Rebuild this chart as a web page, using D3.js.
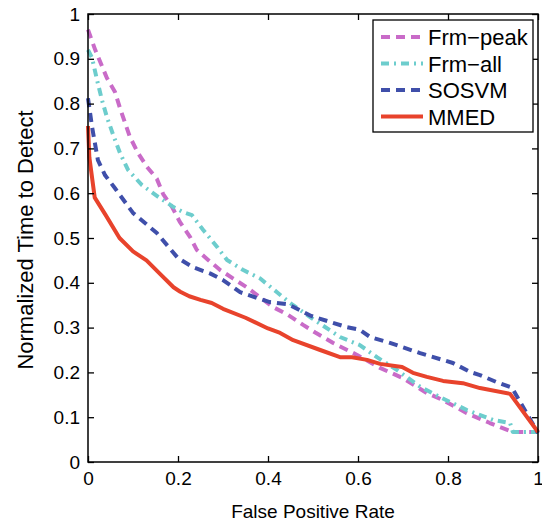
<!DOCTYPE html>
<html>
<head>
<meta charset="utf-8">
<script src="https://cdn.jsdelivr.net/npm/d3@7"></script>
<style>
  body { margin: 0; background: #fff; }
  svg { font-family: "Liberation Sans", Arial, Helvetica, sans-serif; }
</style>
</head>
<body>
<div id="chart"></div>
<script>
// values
const xTicks = [0, 0.2, 0.4, 0.6, 0.8, 1];
const yTicks = [0, 0.1, 0.2, 0.3, 0.4, 0.5, 0.6, 0.7, 0.8, 0.9, 1];

const frmPeak = [
  [0, 0.965], [0.016, 0.92], [0.042, 0.857], [0.06, 0.826], [0.071, 0.79],
  [0.093, 0.726], [0.111, 0.69], [0.131, 0.659], [0.153, 0.632], [0.167, 0.598],
  [0.188, 0.567], [0.204, 0.536], [0.227, 0.502], [0.242, 0.473], [0.267, 0.451],
  [0.293, 0.429], [0.322, 0.41], [0.353, 0.39], [0.382, 0.368], [0.411, 0.346],
  [0.445, 0.328], [0.478, 0.306], [0.505, 0.289], [0.544, 0.266], [0.598, 0.239],
  [0.649, 0.21], [0.7, 0.187], [0.753, 0.154], [0.789, 0.138], [0.842, 0.109],
  [0.893, 0.087], [0.944, 0.067], [1, 0.067]
];

const frmAll = [
  [0, 0.92], [0.009, 0.902], [0.02, 0.853], [0.031, 0.808], [0.042, 0.77],
  [0.056, 0.73], [0.071, 0.69], [0.089, 0.652], [0.12, 0.618], [0.156, 0.592],
  [0.19, 0.569], [0.211, 0.558], [0.231, 0.551], [0.256, 0.518], [0.287, 0.48],
  [0.309, 0.451], [0.344, 0.429], [0.382, 0.41], [0.42, 0.379], [0.449, 0.355],
  [0.496, 0.322], [0.56, 0.279], [0.604, 0.261], [0.642, 0.234], [0.687, 0.205],
  [0.738, 0.168], [0.782, 0.145], [0.842, 0.116], [0.9, 0.094], [0.938, 0.087],
  [0.944, 0.067], [1, 0.067]
];

const sosvm = [
  [0, 0.812], [0.009, 0.748], [0.022, 0.674], [0.038, 0.64], [0.06, 0.611],
  [0.1, 0.556], [0.153, 0.511], [0.2, 0.455], [0.233, 0.435], [0.271, 0.421],
  [0.3, 0.406], [0.338, 0.379], [0.376, 0.366], [0.404, 0.357], [0.445, 0.352],
  [0.496, 0.326], [0.575, 0.301], [0.604, 0.295], [0.627, 0.279], [0.671, 0.266],
  [0.738, 0.243], [0.811, 0.221], [0.849, 0.201], [0.871, 0.194], [0.909, 0.178],
  [0.942, 0.166], [1, 0.065]
];

const mmed = [
  [0, 0.75], [0.003, 0.68], [0.015, 0.59], [0.04, 0.55], [0.07, 0.50],
  [0.1, 0.47], [0.13, 0.45], [0.16, 0.42], [0.19, 0.39], [0.205, 0.38],
  [0.225, 0.37], [0.25, 0.362], [0.275, 0.355], [0.3, 0.342], [0.35, 0.322],
  [0.4, 0.298], [0.427, 0.288], [0.456, 0.272], [0.516, 0.25], [0.56, 0.234],
  [0.587, 0.234], [0.62, 0.228], [0.649, 0.219], [0.698, 0.212], [0.722, 0.199],
  [0.753, 0.19], [0.789, 0.181], [0.833, 0.176], [0.871, 0.165], [0.938, 0.152],
  [1, 0.067]
];

const seriesNames = ['Frm\u2212peak', 'Frm\u2212all', 'SOSVM', 'MMED'];
const seriesData = [frmPeak, frmAll, sosvm, mmed];
const seriesColors = ['#c96bc8', '#6dcdcd', '#3f4faa', '#e8432c'];
const seriesDash = ['9,6', '8,5,2,5', '9,6', null];

const width = 542, height = 523;
const margin = {top: 14, right: 4, bottom: 61, left: 88};
const w = width - margin.left - margin.right;
const h = height - margin.top - margin.bottom;

const svg = d3.select('#chart').append('svg')
    .attr('width', width).attr('height', height);
const g = svg.append('g')
    .attr('transform', 'translate(' + margin.left + ',' + margin.top + ')');

const x = d3.scaleLinear().domain([0, 1]).range([0, w]);
const y = d3.scaleLinear().domain([0, 1]).range([h, 0]);

const line = d3.line().x(d => x(d[0])).y(d => y(d[1]));

// curves first, box on top
svg.append('clipPath').attr('id', 'clip')
    .append('rect').attr('x', -2).attr('y', -2).attr('width', w + 4).attr('height', h + 4);

seriesData.forEach(function(data, i) {
  g.append('path')
      .datum(data)
      .attr('clip-path', 'url(#clip)')
      .attr('d', line)
      .attr('fill', 'none')
      .attr('stroke', seriesColors[i])
      .attr('stroke-width', 4)
      .attr('stroke-linejoin', 'round')
      .attr('stroke-dasharray', seriesDash[i]);
});

// axes, ticks pointing inward
function styleAxis(sel) {
  sel.select('.domain').remove();
  sel.selectAll('line').attr('stroke', '#000').attr('stroke-width', 1.3);
  sel.selectAll('text').attr('fill', '#000').style('font-size', '19px');
}

g.append('g').attr('transform', 'translate(0,' + h + ')')
    .call(d3.axisBottom(x).tickValues(xTicks).tickSize(-6).tickPadding(10)
      .tickFormat(d3.format('~g')))
    .call(styleAxis);
g.append('g')
    .call(d3.axisTop(x).tickValues(xTicks).tickSize(-6).tickFormat(''))
    .call(styleAxis);
g.append('g')
    .call(d3.axisLeft(y).tickValues(yTicks).tickSize(-6).tickPadding(8)
      .tickFormat(d3.format('~g')))
    .call(styleAxis);
g.append('g').attr('transform', 'translate(' + w + ',0)')
    .call(d3.axisRight(y).tickValues(yTicks).tickSize(-6).tickFormat(''))
    .call(styleAxis);

g.append('rect')
    .attr('width', w).attr('height', h)
    .attr('fill', 'none').attr('stroke', '#000').attr('stroke-width', 1.5);

// axis titles
svg.append('text')
    .attr('x', margin.left + w / 2).attr('y', 518)
    .attr('text-anchor', 'middle')
    .style('font-size', '19px')
    .text('False Positive Rate');
svg.append('text')
    .attr('transform', 'translate(33,240) rotate(-90)')
    .attr('text-anchor', 'middle')
    .style('font-size', '22px')
    .text('Normalized Time to Detect');

// legend
const legend = svg.append('g').attr('transform', 'translate(373,20)');
legend.append('rect')
    .attr('width', 160).attr('height', 112)
    .attr('fill', '#fff').attr('stroke', '#000').attr('stroke-width', 1.3);

seriesNames.forEach(function(name, i) {
  const row = legend.append('g').attr('transform', 'translate(0,' + (17 + i * 26.5) + ')');
  row.append('line')
      .attr('x1', 8).attr('x2', 50)
      .attr('stroke', seriesColors[i])
      .attr('stroke-width', 4)
      .attr('stroke-dasharray', seriesDash[i]);
  row.append('text')
      .attr('x', 55).attr('y', 8)
      .style('font-size', '22px')
      .text(name);
});
</script>
</body>
</html>
